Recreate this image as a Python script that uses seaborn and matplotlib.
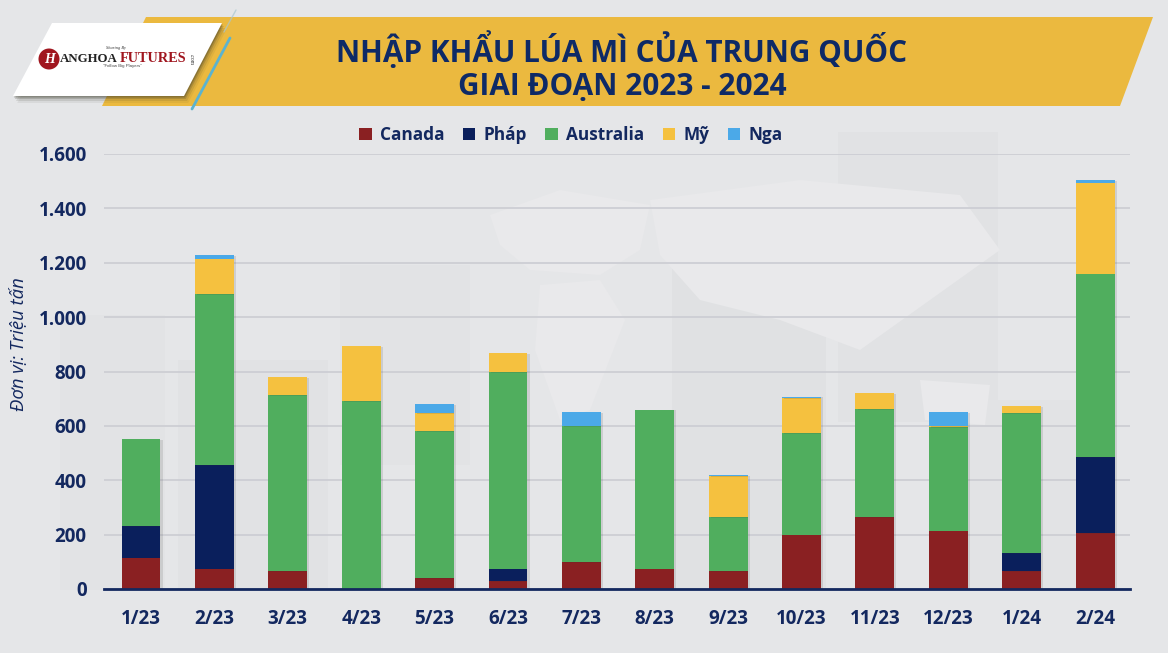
import numpy as np
import matplotlib
matplotlib.use("Agg")
import matplotlib.pyplot as plt
import matplotlib.patheffects as pe
from matplotlib.patches import Polygon, Rectangle, Circle
from matplotlib.lines import Line2D
from matplotlib.ticker import FuncFormatter
import seaborn as sns

months = ["1/23","2/23","3/23","4/23","5/23","6/23","7/23","8/23","9/23","10/23","11/23","12/23","1/24","2/24"]
canada = [115,75,65,0,40,30,100,75,65,200,265,215,65,205]
phap = [115,380,0,0,0,45,0,0,0,0,0,0,67,280]
australia = [320,630,647,692,540,722,500,585,200,372,397,380,515,675]
my = [0,130,68,200,68,70,0,0,150,130,58,5,25,335]
nga = [0,12,0,0,32,0,50,0,3,6,0,50,0,8]
series = ["Canada","Pháp","Australia","Mỹ","Nga"]
colors = ["#8A2022","#0A1F5C","#50AE5E","#F5C13F","#4BA9E8"]
title_lines = ["NHẬP KHẨU LÚA MÌ CỦA TRUNG QUỐC","GIAI ĐOẠN 2023 - 2024"]
yticks = [0,200,400,600,800,1000,1200,1400,1600]
NAVY = "#13285F"

sns.set_theme(style="white")
plt.rcParams["font.family"] = ["Open Sans","DejaVu Sans"]

W, H = 1168, 653
fig = plt.figure(figsize=(W/100, H/100), dpi=100, facecolor="#E5E6E8")

# decorative backdrop layer in pixel coordinates
bg = fig.add_axes([0,0,1,1], zorder=0)
bg.set_xlim(0,W); bg.set_ylim(H,0); bg.axis("off")
for (x,y,w,h,c) in [(838,132,160,290,"#E1E2E4"),(672,248,154,340,"#E0E1E3"),(178,360,150,230,"#E1E2E4"),
                    (60,315,105,275,"#E2E3E5"),(960,400,150,190,"#E2E3E5"),(340,265,130,200,"#E2E3E5")]:
    bg.add_patch(Rectangle((x,y),w,h,fc=c,ec="none"))
for pts in [[(490,215),(560,190),(650,205),(640,250),(600,275),(530,270),(500,245)],
            [(540,285),(600,280),(625,320),(590,410),(560,420),(535,350)],
            [(650,200),(800,180),(960,195),(1000,250),(930,300),(860,350),(780,320),(700,300),(660,255)],
            [(920,380),(990,385),(985,425),(925,420)]]:
    bg.add_patch(Polygon(pts,closed=True,fc="#E9E9EB",ec="none"))

# chart
L,R,T,B = 104,1130,154,589
ax = fig.add_axes([L/W,1-B/H,(R-L)/W,(B-T)/H], zorder=2)
ax.patch.set_alpha(0)
bottom = np.zeros(len(months))
shadow = [pe.SimplePatchShadow(offset=(1.5,-0.5),alpha=0.13,shadow_rgbFace="#333333"),pe.Normal()]
for name,vals,c in zip(series,[canada,phap,australia,my,nga],colors):
    n0 = len(ax.patches)
    sns.barplot(x=months,y=vals,bottom=bottom,color=c,width=0.53,saturation=1,ax=ax,
                linewidth=0,zorder=3,errorbar=None)
    for p in ax.patches[n0:]:
        p.set_path_effects(shadow)
    bottom = bottom+np.array(vals,float)
ax.set_xlim(-0.504,13.475)
ax.set_ylim(0,1600)
ax.set_yticks(yticks)
ax.yaxis.set_major_formatter(FuncFormatter(lambda v,_:f"{int(v):,}".replace(",",".")))
ax.grid(axis="y",color="#CDCED4",lw=1.3,zorder=1)
ax.set_axisbelow(True)
for s in ["top","left","right"]:
    ax.spines[s].set_visible(False)
ax.spines["bottom"].set_color("#13285F"); ax.spines["bottom"].set_linewidth(2)
ax.spines["bottom"].set_zorder(6)
ax.tick_params(axis="both",length=0,colors=NAVY)
ax.tick_params(axis="x",pad=14.5)
ax.tick_params(axis="y",pad=12.5)
for t in ax.get_xticklabels()+ax.get_yticklabels():
    t.set_fontsize(13.5); t.set_fontweight("bold"); t.set_color(NAVY)

fig.text(19/W,1-344/H,"Đơn vị: Triệu tấn",rotation=90,style="italic",fontsize=13.3,color=NAVY,ha="center",va="center",zorder=5)

handles = [Rectangle((0,0),1,1,fc=c,ec="none") for c in colors]
fig.legend(handles,series,loc="center",bbox_to_anchor=(571/W,1-135/H),ncol=5,frameon=False,
           handlelength=0.72,handleheight=0.72,handletextpad=0.5,columnspacing=1.05,
           prop={"weight":"bold","size":12.4},labelcolor=NAVY)

# banner and logo layer
top = fig.add_axes([0,0,1,1], zorder=1)
top.set_xlim(0,W); top.set_ylim(H,0); top.axis("off"); top.patch.set_alpha(0)
top.add_patch(Polygon([(146,17),(1153,17),(1120,106),(102,106)],closed=True,fc="#EBB93F",ec="none"))
logo = [(52,23),(222,23),(184,96),(13,96)]
for off,alpha in [(7,0.07),(5,0.12),(3,0.2),(1.5,0.3)]:
    top.add_patch(Polygon([(x+off*0.6,y+off) for x,y in logo],closed=True,fc="#3a3a2a",ec="none",alpha=alpha))
top.add_patch(Polygon(logo,closed=True,fc="white",ec="none"))
top.add_line(Line2D([230,192],[38,109],color="#5BB3D0",lw=2))
top.add_line(Line2D([236,224],[10,32],color="#A9C7CF",lw=1,alpha=0.7))
top.add_patch(Circle((49,59),10.5,fc="#A0161F",ec="none"))
top.text(49,59.5,"H",color="white",fontsize=10,fontweight="bold",style="italic",family="Liberation Serif",ha="center",va="center")
top.text(60,58.5,"ANGHOA",color="#222222",fontsize=9.3,fontweight="bold",family="Liberation Serif",ha="left",va="center")
top.text(120,58.5,"FUTURES",color="#A0161F",fontsize=10.3,fontweight="bold",family="Liberation Serif",ha="left",va="center")
top.text(191,60,".com",color="#333333",fontsize=4,rotation=-90,family="Liberation Serif",ha="center",va="center")
top.text(116,48,"Sharing By",color="#333333",fontsize=3.2,style="italic",family="Liberation Serif",ha="center",va="center")
top.text(122,66,'"Follow Big Players"',color="#444444",fontsize=3.2,family="Liberation Sans",ha="center",va="center")
for line,y in zip(title_lines,[50,87]):
    top.text(622,y,line,color="#0E2A66",fontsize=21.4,fontweight="bold",ha="center",va="center")

fig.savefig("out.png",dpi=100,facecolor=fig.get_facecolor())
